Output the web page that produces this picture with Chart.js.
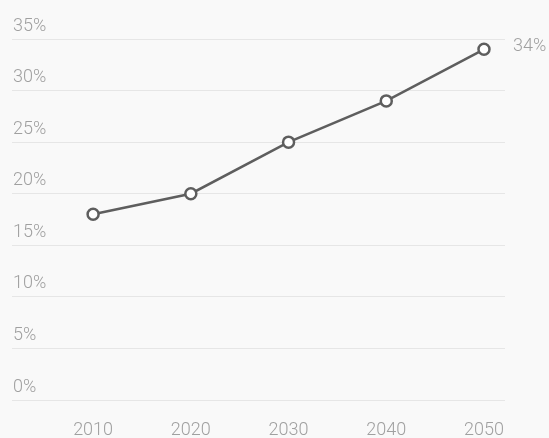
<!DOCTYPE html>
<html>
<head>
<meta charset="utf-8">
<script src="https://cdn.jsdelivr.net/npm/chart.js@4/dist/chart.umd.min.js"></script>
<style>
  html, body { margin: 0; padding: 0; background: #f9f9f9; }
  #wrap { width: 549px; height: 438px; }
</style>
</head>
<body>
<div id="wrap"><canvas id="myChart" width="549" height="438"></canvas></div>
<script>
const years = [2010, 2020, 2030, 2040, 2050];
const share = [18, 20, 25, 29, 34];
const yTicks = [0, 5, 10, 15, 20, 25, 30, 35];

const textColor = '#a0a0a0';
const font = { family: 'Roboto', size: 18, weight: 300 };

// label for the last point, right of the plot
const endLabel = {
    id: 'endLabel',
    afterDatasetsDraw(chart) {
        const meta = chart.getDatasetMeta(0);
        const last = meta.data[meta.data.length - 1];
        const c = chart.ctx;
        c.save();
        c.font = '300 18px Roboto';
        c.fillStyle = textColor;
        c.textAlign = 'left';
        c.textBaseline = 'middle';
        c.fillText(share[share.length - 1] + '%', chart.chartArea.right + 8, last.y - 3);
        c.restore();
    }
};

const ctx = document.getElementById('myChart');

let chart = new Chart(ctx, {
    type: 'line',
    data: {
        datasets: [{
            data: years.map((y, i) => ({ x: y, y: share[i] })),
            borderColor: '#5e5e5e',
            borderWidth: 2.5,
            pointRadius: 5.5,
            pointBorderWidth: 2.5,
            pointBackgroundColor: '#ffffff',
            pointBorderColor: '#5e5e5e',
            tension: 0
        }]
    },
    options: {
        responsive: false,
        animation: false,
        layout: { padding: { left: 12, right: 44, top: 39, bottom: 0 } },
        plugins: { legend: { display: false }, tooltip: { enabled: false } },
        scales: {
            x: {
                type: 'linear',
                min: 2001.7,
                max: 2052.15,
                afterBuildTicks: (axis) => { axis.ticks = years.map(v => ({ value: v })); },
                afterFit: (axis) => { axis.height = 38; },
                grid: { display: false, drawTicks: false },
                border: { display: false },
                ticks: { color: textColor, font: font, padding: 20, maxRotation: 0, callback: v => String(v) }
            },
            y: {
                min: 0,
                max: 35,
                afterBuildTicks: (axis) => { axis.ticks = yTicks.map(v => ({ value: v })); },
                afterFit: (axis) => { axis.width = 0; },
                grid: { color: '#e6e6e6', lineWidth: 1, drawTicks: false },
                border: { display: false },
                ticks: { color: textColor, font: font, mirror: true, padding: 1, labelOffset: -13, callback: v => v + '%' }
            }
        }
    },
    plugins: [endLabel]
});
</script>
</body>
</html>
